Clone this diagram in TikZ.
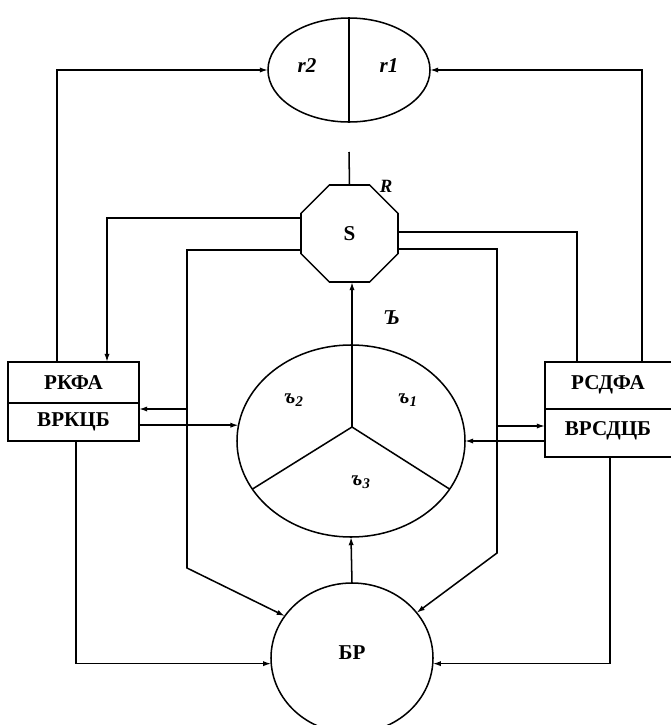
\documentclass[tikz,border=0pt]{standalone}
\usepackage{fontspec}
\setmainfont{Liberation Serif}
\usetikzlibrary{shapes.geometric,arrows.meta,calc}
\begin{document}
\begin{tikzpicture}[x=0.03cm,y=-0.03cm, line width=1.3pt,
  >={Latex[length=7pt,width=4.5pt]},
  lbl/.style={font=\fontsize{18}{20}\selectfont\bfseries, inner sep=0pt},
  ilbl/.style={font=\fontsize{18}{20}\selectfont\bfseries\itshape, inner sep=0pt},
  oval/.style={draw, ellipse, inner sep=0pt, outer sep=0pt},
  box/.style={draw, rectangle, inner sep=0pt, outer sep=0pt}]
\useasboundingbox (0,0) rectangle (671,725);

% nodes
\node[oval, minimum width=4.86cm, minimum height=3.12cm] (R) at (349,70) {};
\node[draw, regular polygon, regular polygon sides=8, minimum size=3.15cm,
      inner sep=0pt, outer sep=0pt] (oct) at (349.5,233.5) {};
\node[lbl] (S) at (oct.center) {S};
\node[ilbl, font=\fontsize{16}{18}\selectfont\bfseries\itshape] (Rl) at (386,186) {R};
\node[oval, minimum width=6.84cm, minimum height=5.76cm] (C) at (351,441) {};
\node[oval, minimum width=4.86cm, minimum height=4.5cm] (BR) at (352,658) {};
\node[lbl] (BRl) at (352,653) {БР};

\node[box, minimum width=3.93cm, minimum height=1.23cm] (rk1) at (73.5,382.5) {};
\node[box, minimum width=3.93cm, minimum height=1.14cm] (rk2) at (73.5,422) {};
\node[lbl] (rk1l) at (rk1.center) {РКФА};
\node[lbl] (rk2l) at (rk2.center) {ВРКЦБ};

\node[box, minimum width=4.5cm, minimum height=1.41cm] (rs1) at (620,385.5) {};
\node[box, minimum width=4.5cm, minimum height=1.44cm] (rs2) at (620,433) {};
\node[lbl] (rs1l) at (608,385) {РСДФА};
\node[lbl] (rs2l) at (608,431) {ВРСДЦБ};

% labels
\node[ilbl] (r2) at (307,66) {r2};
\node[ilbl] (r1) at (389,66) {r1};
\node[ilbl] (b2) at (294,400) {ъ\textsubscript{2}};
\node[ilbl] (b1) at (408,400) {ъ\textsubscript{1}};
\node[ilbl] (b3) at (361,482) {ъ\textsubscript{3}};
\node[ilbl] (BB) at (392,318) {Ъ};

% inner structure
\draw (R.north) -- (R.south);
\coordinate (J) at (352,427);
\draw (J) -- (C.206);
\draw (J) -- (C.334);
\draw[->] (J) -- (J |- oct.south);
\coordinate (rtop) at (349,152);
\draw (rtop) -- (oct.north);
\draw[->] (BR.north) -- (C.south);

% left side
\draw[->] ($(rk1.north west)+(49,0)$) |- (R.west);
\draw[->] ($(oct.west)+(0,-15.5)$) -| ($(rk1.north west)+(99,0)$);
\coordinate (kl) at (187,568);
\draw[->] ($(oct.west)+(0,16.5)$) -| (kl) -- (BR.148);
\coordinate (p1) at (187,409);
\draw[->] (p1) -- (p1 -| rk2.east);
\draw[->] (rk2.east |- C.172) -- (C.172);
\draw[->] ($(rk2.south west)+(68,0)$) |- (BR.184);

% right side
\draw[->] ($(rs1.north west)+(97,0)$) |- (R.east);
\draw ($(oct.east)+(0,-1.5)$) -| ($(rs1.north west)+(32,0)$);
\coordinate (kr) at (497,553);
\draw[->] ($(oct.east)+(0,15.5)$) -| (kr) -- (BR.35);
\coordinate (p2) at (497,426);
\draw[->] (p2) -- (p2 -| rs2.west);
\draw[->] (rs2.west |- C.east) -- (C.east);
\draw[->] ($(rs2.south west)+(65,0)$) |- (BR.356);
\end{tikzpicture}
\end{document}
